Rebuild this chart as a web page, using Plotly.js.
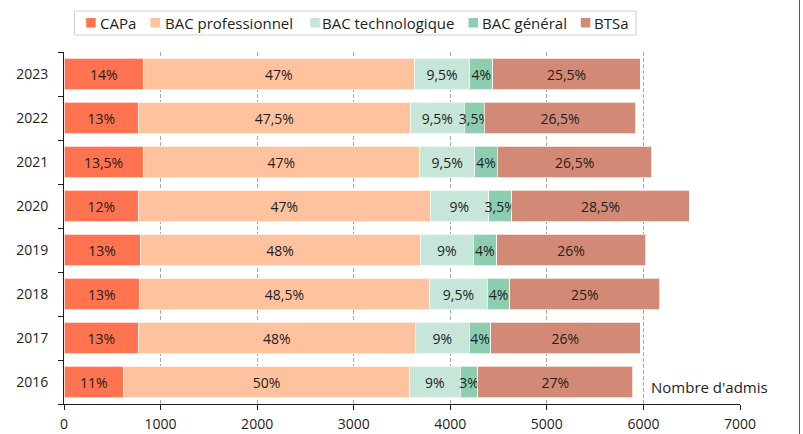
<!DOCTYPE html>
<html>
<head>
<meta charset="utf-8">
<script src="https://cdn.plot.ly/plotly-3.0.1.min.js"></script>
<style>
html,body{margin:0;padding:0;background:#fff;}
#wrap{width:799px;height:434px;border-right:1px solid #5a5a5a;}
#chart{width:799px;height:434px;}
</style>
</head>
<body>
<div id="wrap"><div id="chart"></div></div>
<script>
// Data
const years = ['2016','2017','2018','2019','2020','2021','2022','2023'];
const seriesNames = ['CAPa','BAC professionnel','BAC technologique','BAC général','BTSa'];
const capa      = [619, 771, 781, 788, 771, 818, 771, 822];
const bacPro    = [2959, 2866, 3004, 2900, 3021, 2866, 2814, 2805];
const bacTechno = [524, 560, 598, 549, 604, 568, 562, 575];
const bacGen    = [184, 221, 235, 242, 241, 236, 207, 240];
const btsa      = [1603, 1547, 1551, 1545, 1838, 1600, 1566, 1523];
const capaLbl   = ['11%','13%','13%','13%','12%','13,5%','13%','14%'];
const proLbl    = ['50%','48%','48,5%','48%','47%','47%','47,5%','47%'];
const techLbl   = ['9%','9%','9,5%','9%','9%','9,5%','9,5%','9,5%'];
const genLbl    = ['3%','4%','4%','4%','3,5%','4%','3,5%','4%'];
const btsaLbl   = ['27%','26%','25%','26%','28,5%','26,5%','26,5%','25,5%'];
const xTicks    = [0,1000,2000,3000,4000,5000,6000,7000];
const xAxisNote = "Nombre d'admis";

const colors = ['#FF7350','#FEC29F','#C6E6D9','#8DCEB1','#D28A77'];
const values = [capa, bacPro, bacTechno, bacGen, btsa];
const labels = [capaLbl, proLbl, techLbl, genLbl, btsaLbl];
const FONT = '"Open Sans", "Noto Sans", sans-serif';
const TXT = '#1e1e1e';

const traces = seriesNames.map((name, i) => ({
  type: 'bar',
  orientation: 'h',
  name: name,
  y: years,
  x: values[i],
  text: labels[i],
  texttemplate: '%{text}',
  textposition: 'inside',
  insidetextanchor: 'middle',
  textangle: 0,
  constraintext: 'none',
  textfont: {family: FONT, size: 14, color: TXT},
  marker: {color: colors[i], line: {color: 'rgba(255,255,255,0.7)', width: 1}},
  hoverinfo: 'x+y+name',
  showlegend: false
}));

// plot area geometry (pixels)
const W = 799, H = 434, ML = 63.5, MR = 59, MT = 52, MB = 30;
const PW = W - ML - MR, PH = H - MT - MB;
const px = x => (x - ML) / PW;
const py = y => (H - MB - y) / PH;

// manual legend
const legMarkX = [85.7, 150, 310, 468.3, 580.7];
const legTextX = [97.5, 162.5, 320, 479.5, 591.5];
const shapes = [{
  type: 'rect', xref: 'paper', yref: 'paper',
  x0: px(74), x1: px(636), y0: py(35), y1: py(11),
  line: {color: '#d0d0d0', width: 1}, fillcolor: 'rgba(0,0,0,0)'
}];
const annotations = [];
seriesNames.forEach((n, i) => {
  shapes.push({
    type: 'rect', xref: 'paper', yref: 'paper',
    x0: px(legMarkX[i]), x1: px(legMarkX[i] + 9.5),
    y0: py(27.5), y1: py(18),
    line: {width: 0}, fillcolor: colors[i]
  });
  annotations.push({
    xref: 'paper', yref: 'paper', x: px(legTextX[i]), y: py(23),
    xanchor: 'left', yanchor: 'middle', showarrow: false,
    text: n, font: {family: FONT, size: 15, color: TXT}
  });
});
annotations.push({
  xref: 'paper', yref: 'paper', x: px(649), y: py(387),
  xanchor: 'left', yanchor: 'middle', showarrow: false,
  text: xAxisNote, font: {family: FONT, size: 15, color: TXT}
});

const layout = {
  width: W, height: H,
  margin: {l: ML, r: MR, t: MT, b: MB, pad: 0},
  paper_bgcolor: '#fff', plot_bgcolor: '#fff',
  barmode: 'stack',
  bargap: 0.28,
  font: {family: FONT, size: 14, color: TXT},
  xaxis: {
    range: [0, 7000], tickvals: xTicks, ticktext: xTicks.map(String),
    showgrid: true, gridcolor: '#aaaaaa', griddash: '4px,2px', gridwidth: 1,
    zeroline: false, showline: true, linecolor: '#1e1e1e', linewidth: 1,
    ticks: 'outside', ticklen: 5, tickcolor: '#1e1e1e', ticklabelstandoff: 2,
    tickfont: {family: FONT, size: 14, color: TXT}, fixedrange: true
  },
  yaxis: {
    type: 'category', categoryorder: 'array', categoryarray: years,
    range: [-0.5, 7.5],
    showgrid: false, zeroline: false, showline: true, linecolor: '#1e1e1e', linewidth: 1,
    ticks: 'outside', tickson: 'boundaries', ticklen: 5, tickcolor: '#1e1e1e',
    ticklabelstandoff: 12,
    tickfont: {family: FONT, size: 14, color: TXT}, fixedrange: true
  },
  shapes: shapes,
  annotations: annotations,
  showlegend: false
};

Plotly.newPlot('chart', traces, layout, {displayModeBar: false, staticPlot: false});
</script>
</body>
</html>
